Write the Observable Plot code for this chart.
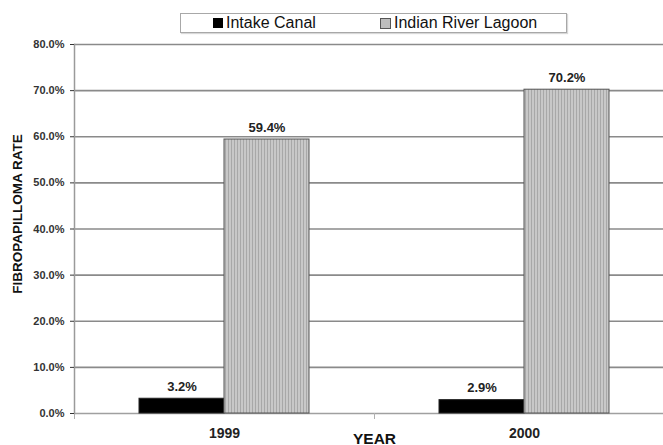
<!DOCTYPE html>
<html><head><meta charset="utf-8">
<script src="https://cdn.jsdelivr.net/npm/d3@7"></script>
<script src="https://cdn.jsdelivr.net/npm/@observablehq/plot@0.6"></script>
<style>
body{margin:0;background:#fff;overflow:hidden;font-family:"Liberation Sans",Arial,sans-serif;}
#legend{position:relative;width:663px;height:38px;}
.lbox{position:absolute;left:180px;top:13px;width:385px;height:18px;border:1px solid #a8a8a8;box-shadow:1px 1px 1px #d8d8d8;background:#fff;}
.it{position:absolute;top:0;bottom:0;display:flex;align-items:center;font-size:16px;color:#111;white-space:nowrap;}
.sw{display:inline-block;width:10px;height:10px;margin-right:3px;box-sizing:border-box;}
</style></head>
<body>
<div id="legend"><div class="lbox">
  <div class="it" style="left:32px"><span class="sw" style="background:#000"></span><span id="l0"></span></div>
  <div class="it" style="left:199px"><span class="sw" style="width:11px;height:11px;background:#bdbdbd;border:1px solid #555"></span><span id="l1"></span></div>
</div></div>
<div id="chart"></div>
<script>
const years = ["1999", "2000"];
const series = ["Intake Canal", "Indian River Lagoon"];
const intakeCanal = [0.032, 0.029];
const indianRiverLagoon = [0.594, 0.702];
const yTicks = [0, 0.1, 0.2, 0.3, 0.4, 0.5, 0.6, 0.7, 0.8];
const xTitle = "YEAR";
const yTitle = "FIBROPAPILLOMA RATE";

document.getElementById("l0").textContent = series[0];
document.getElementById("l1").textContent = series[1];

const rows = years.flatMap((year, i) => [
  {year, series: series[0], value: intakeCanal[i]},
  {year, series: series[1], value: indianRiverLagoon[i]}
]);
const pct = d3.format(".1%");

const chart = Plot.plot({
  width: 663,
  height: 407,
  marginLeft: 74,
  marginRight: 0,
  marginTop: 6,
  marginBottom: 32,
  style: {fontFamily: "'Liberation Sans', Arial, sans-serif", background: "#fff", color: "#222"},
  fx: {domain: years, range: [74, 674], padding: 0},
  x: {domain: series, paddingInner: 0, paddingOuter: 0.754, axis: null},
  y: {domain: [0, 0.8]},
  marks: [
    Plot.gridY(yTicks.slice(1), {stroke: "#8a8a8a", strokeOpacity: 1, strokeWidth: 1.6}),
    Plot.ruleY([0], {stroke: "#a0a0a0", strokeWidth: 1.5}),
    Plot.frame({anchor: "left", insetTop: 369, insetBottom: -5, stroke: "#b0b0b0", strokeWidth: 1}),
    Plot.frame({anchor: "left", facetAnchor: "left", stroke: "#9a9a9a", strokeWidth: 1.5}),
    Plot.barY(rows.filter(d => d.series === series[0]), {fx: "year", x: "series", y: "value", fill: "#000", stroke: "#222", strokeWidth: 1}),
    Plot.barY(rows.filter(d => d.series === series[1]), {fx: "year", x: "series", y: "value", fill: "url(#vhatch)", stroke: "#555", strokeWidth: 1}),
    Plot.text(rows, {fx: "year", x: "series", y: "value", text: d => pct(d.value), dy: -12, fontWeight: "bold", fontSize: 13, fill: "#222"}),
    Plot.axisY(yTicks, {tickFormat: ".1%", tickSize: 4, tickPadding: 6, fontWeight: "bold", fontSize: 11, color: "#333", label: null}),
    Plot.text([yTitle], {frameAnchor: "left", facetAnchor: "left", textAnchor: "middle", dx: -57, dy: -15, rotate: -90, fontWeight: "bold", fontSize: 13.5, fill: "#111"}),
    Plot.axisFx({anchor: "bottom", tickSize: 0, tickPadding: 15, fontWeight: "bold", fontSize: 14, color: "#222", label: xTitle, labelAnchor: "center", labelOffset: 30})
  ]
});
document.getElementById("chart").appendChild(chart);
const svg = d3.select(chart.tagName.toLowerCase() === "svg" ? chart : chart.querySelector("svg"));
svg.selectAll("text").filter(function() { return this.textContent === xTitle; })
  .attr("font-size", 15.5).attr("font-weight", "bold").attr("fill", "#111");
const defs = svg.insert("defs", ":first-child");
const pat = defs.append("pattern").attr("id", "vhatch").attr("patternUnits", "userSpaceOnUse").attr("width", 3).attr("height", 3);
pat.append("rect").attr("width", 3).attr("height", 3).attr("fill", "#c8c8c8");
pat.append("rect").attr("width", 1).attr("height", 3).attr("fill", "#a8a8a8");
</script>
</body></html>
